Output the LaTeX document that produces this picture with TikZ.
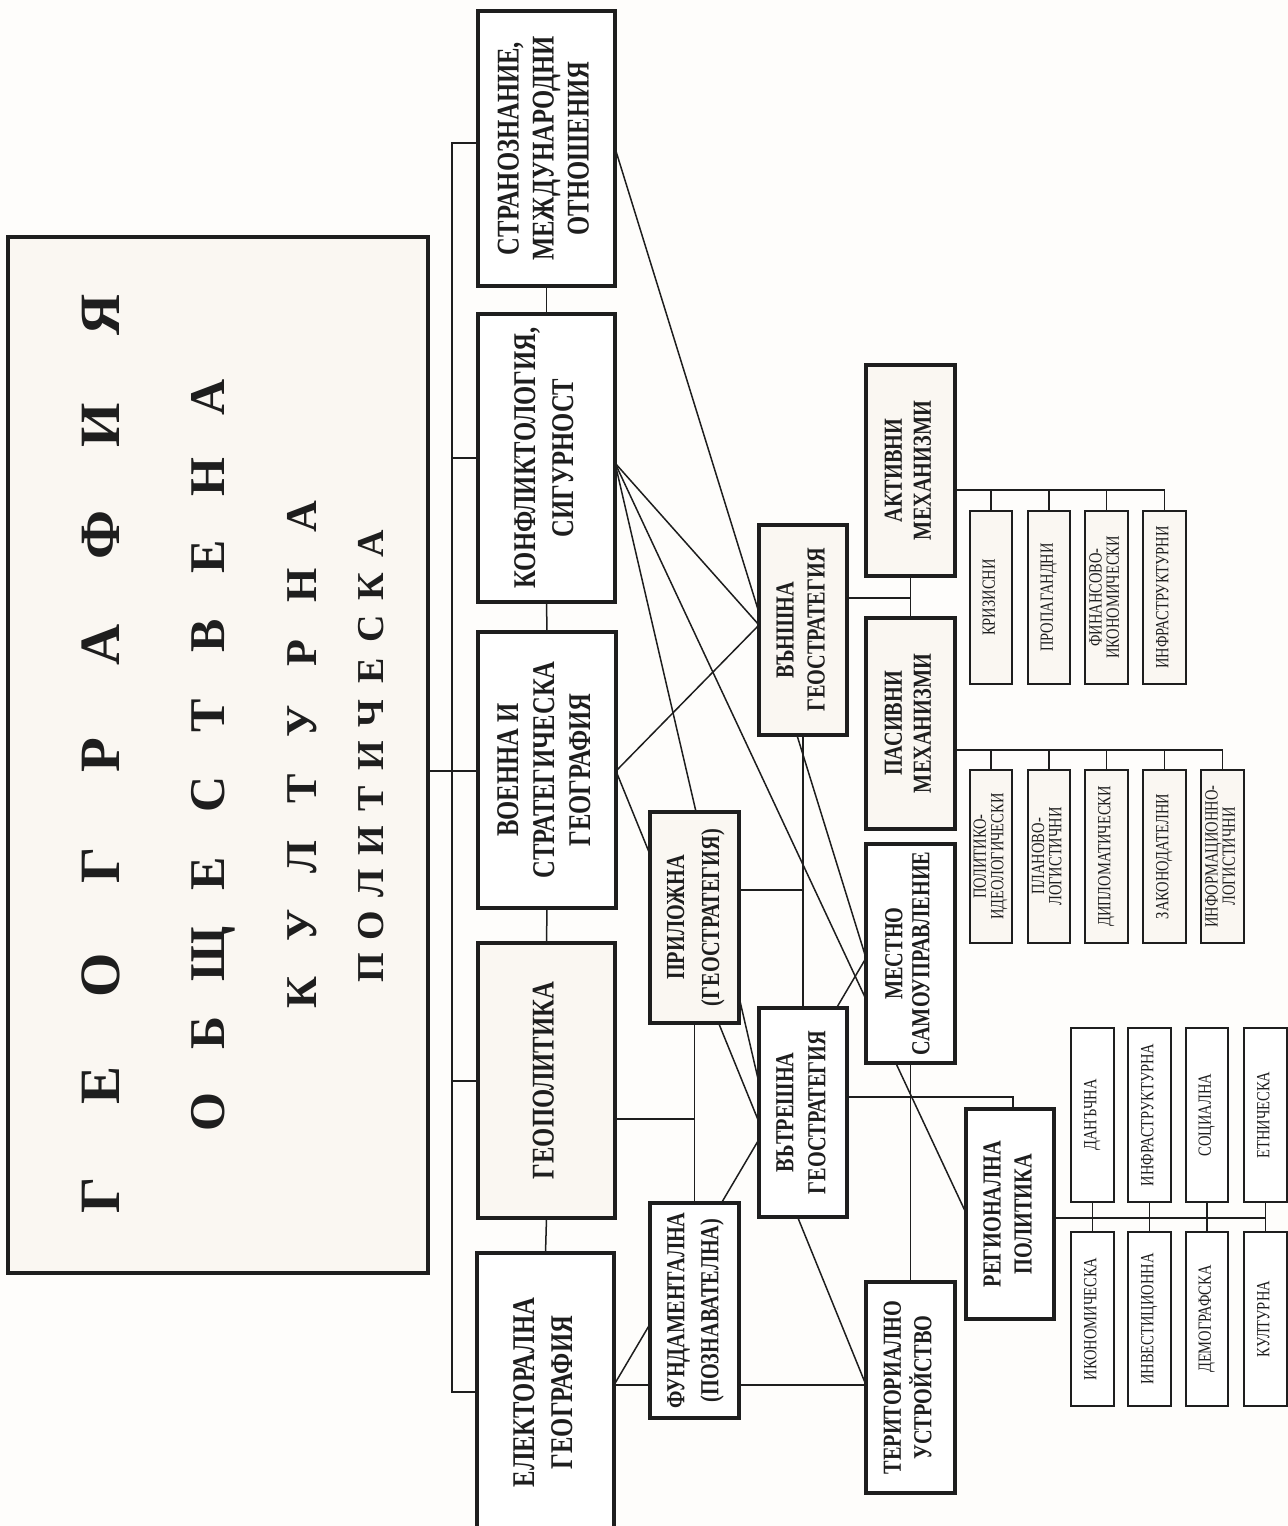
\documentclass[tikz,border=0pt]{standalone}
\usepackage{fontspec}
\setmainfont{Liberation Serif}
\newfontfamily\cfont[FakeStretch=0.78]{Liberation Serif}
\usetikzlibrary{calc}
\definecolor{bgc}{HTML}{FEFDFB}
\definecolor{tint}{HTML}{FAF7F2}
\definecolor{ink}{HTML}{1E1E1E}
\newlength\lw
\newcommand\ltr[1]{\makebox[\lw]{#1}}
\newcommand\vtext[3]{\rotatebox{90}{\fontsize{#1}{#2}\selectfont\begin{tabular}{@{}c@{}}#3\end{tabular}}}
\newcommand\boxat[7]{%
  \pgfmathsetmacro\bw{(#4-#2)*0.5}\pgfmathsetmacro\bh{(#5-#3)*0.5}%
  \pgfmathsetmacro\cx{(#2+#4)/2}\pgfmathsetmacro\cy{(#3+#5)/2}%
  \node[#6, minimum width=\bw pt, minimum height=\bh pt] (#1) at (\cx,\cy) {#7};}
\begin{document}
\begin{tikzpicture}[x=0.5pt,y=-0.5pt,
  box/.style={draw=ink, line width=1.6pt, fill=white, inner sep=0pt, outer sep=0pt, font=\cfont\bfseries, text=ink},
  tbox/.style={box, fill=tint},
  sbox/.style={draw=ink, line width=1.4pt, fill=white, inner sep=0pt, outer sep=0pt, font=\cfont, text=ink},
  stbox/.style={sbox, fill=tint},
  link/.style={draw=ink, line width=0.75pt},
  tline/.style={inner sep=0pt, font=\bfseries, text=ink}]

\useasboundingbox (0,0) rectangle (1288,1526);
\fill[bgc] (0,0) rectangle (1288,1526);

% ---------- node names first (invisible), drawn again on top after the connectors ----------
\begin{scope}[box/.append style={draw=none,fill=none,text opacity=0},
              tbox/.append style={draw=none,fill=none,text opacity=0},
              sbox/.append style={draw=none,fill=none,text opacity=0},
              stbox/.append style={draw=none,fill=none,text opacity=0}]
\boxat{title}{8}{237}{428}{1273}{tbox}{}
\boxat{stran}{478}{11}{615}{286}{box}{}
\boxat{konf}{478}{314}{615}{602}{box}{}
\boxat{voen}{478}{632}{616}{908}{box}{}
\boxat{geop}{478}{943}{615}{1218}{tbox}{}
\boxat{elek}{477}{1253}{614}{1532}{box}{}
\boxat{pril}{650}{812}{739}{1023}{tbox}{}
\boxat{fund}{650}{1203}{739}{1418}{box}{}
\boxat{vansh}{759}{525}{847}{735}{tbox}{}
\boxat{vatr}{759}{1008}{847}{1217}{box}{}
\boxat{mest}{866}{844}{955}{1063}{box}{}
\boxat{terit}{866}{1282}{955}{1493}{box}{}
\boxat{aktiv}{866}{365}{955}{576}{tbox}{}
\boxat{pasiv}{866}{618}{955}{829}{tbox}{}
\boxat{region}{966}{1109}{1054}{1319}{box}{}
\boxat{k1}{970}{511}{1012}{684}{stbox}{}
\boxat{k2}{1028}{511}{1070}{684}{stbox}{}
\boxat{k3}{1085}{511}{1128}{684}{stbox}{}
\boxat{k4}{1143}{511}{1186}{684}{stbox}{}
\boxat{p1}{970}{770}{1012}{943}{stbox}{}
\boxat{p2}{1028}{770}{1070}{943}{stbox}{}
\boxat{p3}{1085}{770}{1128}{943}{stbox}{}
\boxat{p4}{1143}{770}{1186}{943}{stbox}{}
\boxat{p5}{1201}{770}{1244}{943}{stbox}{}
\boxat{r1}{1071}{1028}{1114}{1202}{sbox}{}
\boxat{r2}{1128}{1028}{1171}{1202}{sbox}{}
\boxat{r3}{1186}{1028}{1228}{1202}{sbox}{}
\boxat{r4}{1244}{1028}{1287}{1202}{sbox}{}
\boxat{r5}{1071}{1232}{1114}{1406}{sbox}{}
\boxat{r6}{1128}{1232}{1171}{1406}{sbox}{}
\boxat{r7}{1186}{1232}{1228}{1406}{sbox}{}
\boxat{r8}{1244}{1232}{1287}{1406}{sbox}{}
\end{scope}

% ---------- connectors ----------
% bracket on the left of level 1
\coordinate (brT) at (452,143);
\coordinate (brB) at (452,1392);
\draw[link] (stran.west |- brT) -- (brT) -- (brB) -- (elek.west |- brB);
\draw[link] (konf.west |- 0,458) -- (brT |- 0,458);
\draw[link] (title.east |- 0,771) -- (voen.west |- 0,771);
\draw[link] (geop.west |- 0,1081) -- (brT |- 0,1081);
% chain of level 1
\draw[link] (stran.south) -- (konf.north);
\draw[link] (konf.south) -- (voen.north);
\draw[link] (voen.south) -- (geop.north);
\draw[link] (geop.south) -- (elek.north);
% long diagonals
\draw[link] (stran.east |- 0,148) -- (mest.west |- 0,958);
\draw[link] (konf.east |- 0,463) -- (vansh.west |- 0,625);
\draw[link] (konf.east |- 0,463) -- (vatr.west |- 0,1083);
\draw[link] (konf.east |- 0,463) -- (region.west |- 0,1213);
\draw[link] (voen.east |- 0,771) -- (vansh.west |- 0,625);
\draw[link] (voen.east |- 0,771) -- (terit.west |- 0,1385);
\draw[link] (elek.east |- 0,1385) -- (mest.west |- 0,958);
\draw[link] (elek.east |- 0,1385) -- (terit.west |- 0,1385);
% geostrategy trees
\draw[link] (vansh.south) -- (vatr.north);
\draw[link] (pril.east |- 0,890) -- (vansh.south |- 0,890);
\draw[link] (pril.south) -- (fund.north);
\draw[link] (geop.east |- 0,1119) -- (pril.south |- 0,1119);
\draw[link] (aktiv.south) -- (pasiv.north);
\draw[link] (vansh.east |- 0,598) -- (aktiv.south |- 0,598);
\draw[link] (mest.south) -- (terit.north);
\draw[link] (vatr.east |- 0,1097) -- ([xshift=1.5pt]region.north |- 0,1097) -- ([xshift=1.5pt]region.north);
% mechanism stubs
\draw[link] (aktiv.east |- 0,490) -- (k4.north |- 0,490) -- (k4.north);
\foreach \n in {k1,k2,k3} \draw[link] (\n.north) -- (\n.north |- 0,490);
\draw[link] (pasiv.east |- 0,750) -- (p5.north |- 0,750) -- (p5.north);
\foreach \n in {p1,p2,p3,p4} \draw[link] (\n.north) -- (\n.north |- 0,750);
% regional policy stubs
\draw[link] (region.east |- 0,1218) -- (r4.south |- 0,1218);
\foreach \n in {r1,r2,r3,r4} \draw[link] (\n.south) -- (\n.south |- 0,1218);
\foreach \n in {r5,r6,r7,r8} \draw[link] (\n.north) -- (\n.north |- 0,1218);

% ---------- visible boxes ----------
\boxat{title}{8}{237}{428}{1273}{tbox}{}
\node[tline] (t1) at (101,755) {\rotatebox{90}{\fontsize{28.5}{28}\selectfont\setlength\lw{55pt}\ltr{Г}\ltr{Е}\ltr{О}\ltr{Г}\ltr{Р}\ltr{А}\ltr{Ф}\ltr{И}\ltr{Я}}};
\node[tline] (t2) at (213,755) {\rotatebox{90}{\fontsize{25}{25}\selectfont\setlength\lw{39.7pt}\ltr{О}\ltr{Б}\ltr{Щ}\ltr{Е}\ltr{С}\ltr{Т}\ltr{В}\ltr{Е}\ltr{Н}\ltr{А}}};
\node[tline] (t3) at (302,755) {\rotatebox{90}{\fontsize{22}{22}\selectfont\setlength\lw{34pt}\ltr{К}\ltr{У}\ltr{Л}\ltr{Т}\ltr{У}\ltr{Р}\ltr{Н}\ltr{А}}};
\node[tline] (t4) at (371,756) {\rotatebox{90}{\fontsize{19}{19}\selectfont\setlength\lw{21.2pt}\ltr{П}\ltr{О}\ltr{Л}\ltr{И}\ltr{Т}\ltr{И}\ltr{Ч}\ltr{Е}\ltr{С}\ltr{К}\ltr{А}}};

\boxat{stran}{478}{11}{615}{286}{box}{\vtext{15.8}{17.5}{СТРАНОЗНАНИЕ,\\МЕЖДУНАРОДНИ\\ОТНОШЕНИЯ}}
\boxat{konf}{478}{314}{615}{602}{box}{\vtext{15.8}{19}{КОНФЛИКТОЛОГИЯ,\\СИГУРНОСТ}}
\boxat{voen}{478}{632}{616}{908}{box}{\vtext{15.8}{18}{ВОЕННА И\\СТРАТЕГИЧЕСКА\\ГЕОГРАФИЯ}}
\boxat{geop}{478}{943}{615}{1218}{tbox}{\vtext{15.8}{18}{ГЕОПОЛИТИКА}}
\boxat{elek}{477}{1253}{614}{1532}{box}{\vtext{15.8}{19}{ЕЛЕКТОРАЛНА\\ГЕОГРАФИЯ}}

\boxat{pril}{650}{812}{739}{1023}{tbox}{\vtext{13}{17.5}{ПРИЛОЖНА\\(ГЕОСТРАТЕГИЯ)}}
\boxat{fund}{650}{1203}{739}{1418}{box}{\vtext{13}{17}{ФУНДАМЕНТАЛНА\\(ПОЗНАВАТЕЛНА)}}
\boxat{vansh}{759}{525}{847}{735}{tbox}{\vtext{13}{15.5}{ВЪНШНА\\ГЕОСТРАТЕГИЯ}}
\boxat{vatr}{759}{1008}{847}{1217}{box}{\vtext{13}{16}{ВЪТРЕШНА\\ГЕОСТРАТЕГИЯ}}
\boxat{mest}{866}{844}{955}{1063}{box}{\vtext{13}{13.5}{МЕСТНО\\САМОУПРАВЛЕНИЕ}}
\boxat{terit}{866}{1282}{955}{1493}{box}{\vtext{13}{14}{ТЕРИТОРИАЛНО\\УСТРОЙСТВО}}
\boxat{aktiv}{866}{365}{955}{576}{tbox}{\vtext{13}{14.5}{АКТИВНИ\\МЕХАНИЗМИ}}
\boxat{pasiv}{866}{618}{955}{829}{tbox}{\vtext{13}{14.5}{ПАСИВНИ\\МЕХАНИЗМИ}}
\boxat{region}{966}{1109}{1054}{1319}{box}{\vtext{13}{15.5}{РЕГИОНАЛНА\\ПОЛИТИКА}}

\boxat{k1}{970}{511}{1012}{684}{stbox}{\vtext{9.3}{8}{КРИЗИСНИ}}
\boxat{k2}{1028}{511}{1070}{684}{stbox}{\vtext{9.3}{8}{ПРОПАГАНДНИ}}
\boxat{k3}{1085}{511}{1128}{684}{stbox}{\vtext{9.3}{8}{ФИНАНСОВО-\\ИКОНОМИЧЕСКИ}}
\boxat{k4}{1143}{511}{1186}{684}{stbox}{\vtext{9.3}{8}{ИНФРАСТРУКТУРНИ}}
\boxat{p1}{970}{770}{1012}{943}{stbox}{\vtext{9.3}{8.5}{ПОЛИТИКО-\\ИДЕОЛОГИЧЕСКИ}}
\boxat{p2}{1028}{770}{1070}{943}{stbox}{\vtext{9.3}{8}{ПЛАНОВО-\\ЛОГИСТИЧНИ}}
\boxat{p3}{1085}{770}{1128}{943}{stbox}{\vtext{9.3}{8}{ДИПЛОМАТИЧЕСКИ}}
\boxat{p4}{1143}{770}{1186}{943}{stbox}{\vtext{9.3}{8}{ЗАКОНОДАТЕЛНИ}}
\boxat{p5}{1201}{770}{1244}{943}{stbox}{\vtext{9.3}{8}{ИНФОРМАЦИОННО-\\ЛОГИСТИЧНИ}}
\boxat{r1}{1071}{1028}{1114}{1202}{sbox}{\vtext{9.3}{8}{ДАНЪЧНА}}
\boxat{r2}{1128}{1028}{1171}{1202}{sbox}{\vtext{9.3}{8}{ИНФРАСТРУКТУРНА}}
\boxat{r3}{1186}{1028}{1228}{1202}{sbox}{\vtext{9.3}{8}{СОЦИАЛНА}}
\boxat{r4}{1244}{1028}{1287}{1202}{sbox}{\vtext{9.3}{8}{ЕТНИЧЕСКА}}
\boxat{r5}{1071}{1232}{1114}{1406}{sbox}{\vtext{9.3}{8}{ИКОНОМИЧЕСКА}}
\boxat{r6}{1128}{1232}{1171}{1406}{sbox}{\vtext{9.3}{8}{ИНВЕСТИЦИОННА}}
\boxat{r7}{1186}{1232}{1228}{1406}{sbox}{\vtext{9.3}{8}{ДЕМОГРАФСКА}}
\boxat{r8}{1244}{1232}{1287}{1406}{sbox}{\vtext{9.3}{8}{КУЛТУРНА}}
\end{tikzpicture}
\end{document}
